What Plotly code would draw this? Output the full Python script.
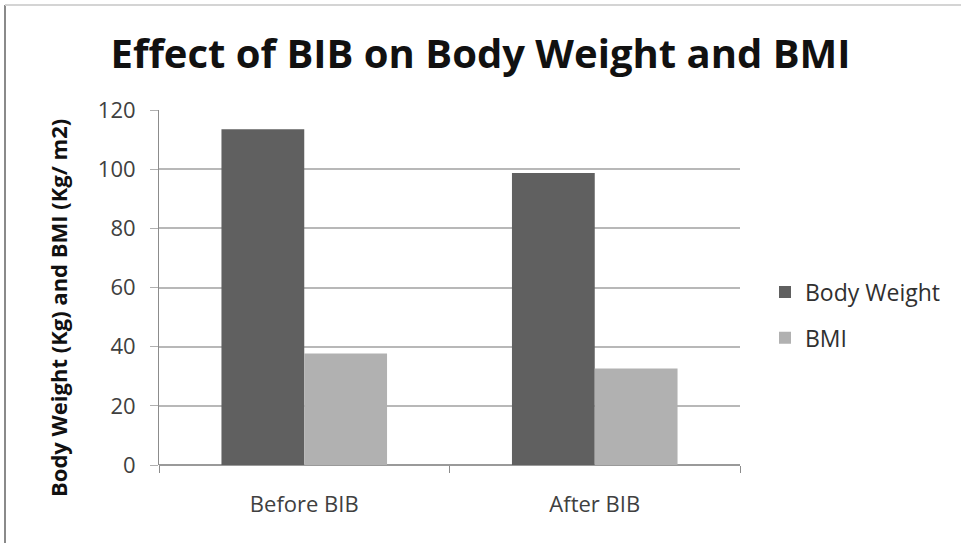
import plotly.graph_objects as go

categories = ["Before BIB", "After BIB"]
body_weight = [113.5, 98.7]
bmi = [37.7, 32.6]
y_ticks = [0, 20, 40, 60, 80, 100, 120]

W, H = 961, 543
L, R, T, B = 159, 221, 110, 78
pw, ph = W - L - R, H - T - B

def px_x(p):
    return (p - L) / pw

def px_y(p):
    return (H - B - p) / ph

FONT = "Open Sans"

fig = go.Figure()
fig.add_trace(go.Bar(name="Body Weight", x=categories, y=body_weight,
                     marker=dict(color="#606060", line=dict(width=0)),
                     legendgroup="a"))
fig.add_trace(go.Bar(name="BMI", x=categories, y=bmi,
                     marker=dict(color="#b1b1b1", line=dict(width=0)),
                     legendgroup="b"))

fig.update_layout(
    width=W, height=H,
    margin=dict(l=L, r=R, t=T, b=B, pad=0),
    paper_bgcolor="white", plot_bgcolor="white",
    barmode="group", bargap=0.43, bargroupgap=0,
    font=dict(family=FONT, color="#404040"),
    title=dict(text="<b>Effect of BIB on Body Weight and BMI</b>",
               font=dict(family=FONT, size=40, color="#111111"),
               x=0.5, xref="container", xanchor="center",
               y=1 - 54 / H, yref="container", yanchor="middle"),
    showlegend=True,
    legend=dict(x=px_x(765), y=px_y(315), xanchor="left", yanchor="middle",
                font=dict(family=FONT, size=23, color="#303030"),
                traceorder="grouped", tracegroupgap=13,
                bgcolor="rgba(0,0,0,0)"),
    xaxis=dict(showgrid=False, showline=False, ticks="outside",
               tickson="boundaries", ticklen=7, tickcolor="#8c8c8c",
               tickfont=dict(family=FONT, size=22, color="#404040"),
               ticklabelstandoff=24, zeroline=False),
    yaxis=dict(range=[0, 120], tickvals=y_ticks, showgrid=True,
               gridcolor="#b8b8b8", gridwidth=1.5,
               showline=True, linecolor="#8c8c8c", linewidth=1,
               ticks="outside", ticklen=8, tickcolor="#b0b0b0",
               tickfont=dict(family=FONT, size=22, color="#404040"),
               ticklabelstandoff=10,
               zeroline=True, zerolinecolor="#9a9a9a", zerolinewidth=1.5),
    annotations=[dict(text="<b>Body Weight (Kg) and BMI (Kg/ m2)</b>",
                      textangle=-90, xref="paper", yref="paper",
                      x=px_x(58), y=px_y(308), xanchor="center", yanchor="middle",
                      showarrow=False,
                      font=dict(family=FONT, size=22, color="#111111"))],
    shapes=[
        dict(type="line", xref="paper", yref="paper",
             x0=px_x(5), x1=px_x(5), y0=px_y(5), y1=px_y(543),
             line=dict(color="#8a8a8a", width=2)),
        dict(type="line", xref="paper", yref="paper",
             x0=px_x(5), x1=px_x(961), y0=px_y(5), y1=px_y(5),
             line=dict(color="#d4d4d4", width=2)),
    ],
)

fig.write_html("out.html")
